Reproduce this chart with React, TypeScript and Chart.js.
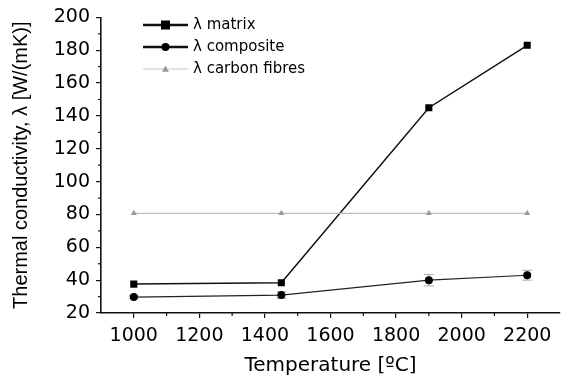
import React, { useEffect, useRef } from "react";
import { Chart, registerables } from "chart.js";

Chart.register(...registerables);

const temperatures = [1000, 1450, 1900, 2200];
const matrixValues = [37.6, 38.4, 145, 183];
const compositeValues = [29.7, 30.9, 40, 43];
const compositeErrors = [0.8, 2, 3.5, 3];
const carbonFibreValues = [80.7, 80.7, 80.7, 80.7];
const xTickValues = [1000, 1200, 1400, 1600, 1800, 2000, 2200];
const seriesLabels = ["λ matrix", "λ composite", "λ carbon fibres"];
const xTitle = "Temperature [ºC]";
const yTitle = "Thermal conductivity, λ [W/(mK)]";

const H_FONT = "'DejaVu Sans', sans-serif";
const V_FONT = "'Liberation Sans', Arial, sans-serif";

const minorTicksPlugin = {
  id: "minorTicks",
  afterDraw(chart: any) {
    const ctx = chart.ctx;
    const x = chart.scales.x;
    const y = chart.scales.y;
    ctx.save();
    ctx.strokeStyle = "#111";
    ctx.lineWidth = 1.2;
    for (let v = 1100; v < 2300; v += 200) {
      const px = x.getPixelForValue(v);
      ctx.beginPath();
      ctx.moveTo(px, x.top);
      ctx.lineTo(px, x.top + 3);
      ctx.stroke();
    }
    for (let v = 30; v < 200; v += 20) {
      const py = y.getPixelForValue(v);
      ctx.beginPath();
      ctx.moveTo(y.right, py);
      ctx.lineTo(y.right - 3, py);
      ctx.stroke();
    }
    ctx.restore();
  },
};

const errorBarPlugin = {
  id: "errorBars",
  beforeDatasetsDraw(chart: any) {
    const ctx = chart.ctx;
    const x = chart.scales.x;
    const y = chart.scales.y;
    ctx.save();
    ctx.strokeStyle = "#aaa";
    ctx.lineWidth = 1;
    temperatures.forEach((t, i) => {
      const px = x.getPixelForValue(t);
      const top = y.getPixelForValue(compositeValues[i] + compositeErrors[i]);
      const bot = y.getPixelForValue(compositeValues[i] - compositeErrors[i]);
      ctx.beginPath();
      ctx.moveTo(px, top);
      ctx.lineTo(px, bot);
      ctx.moveTo(px - 5, top);
      ctx.lineTo(px + 5, top);
      ctx.moveTo(px - 5, bot);
      ctx.lineTo(px + 5, bot);
      ctx.stroke();
    });
    ctx.restore();
  },
};

const legendPlugin = {
  id: "customLegend",
  afterDraw(chart: any) {
    const ctx = chart.ctx;
    const rows = [25, 47, 69];
    const x0 = 143;
    const x1 = 188;
    const xm = (x0 + x1) / 2;
    const styles = [
      { color: "#111", width: 2.5, marker: "rect", r: 4.5 },
      { color: "#111", width: 2.5, marker: "circle", r: 4 },
      { color: "#c4c4c4", width: 1, marker: "triangle", r: 3.5 },
    ];
    ctx.save();
    styles.forEach((s, i) => {
      const yy = rows[i];
      ctx.strokeStyle = s.color;
      ctx.lineWidth = s.width;
      ctx.beginPath();
      ctx.moveTo(x0, yy);
      ctx.lineTo(x1, yy);
      ctx.stroke();
      ctx.fillStyle = i === 2 ? "#999" : "#000";
      ctx.beginPath();
      if (s.marker === "rect") {
        ctx.rect(xm - s.r, yy - s.r, 2 * s.r, 2 * s.r);
      } else if (s.marker === "circle") {
        ctx.arc(xm, yy, s.r, 0, Math.PI * 2);
      } else {
        ctx.moveTo(xm, yy - s.r);
        ctx.lineTo(xm + s.r, yy + s.r * 0.8);
        ctx.lineTo(xm - s.r, yy + s.r * 0.8);
        ctx.closePath();
      }
      ctx.fill();
      ctx.fillStyle = "#000";
      ctx.font = `15px ${H_FONT}`;
      ctx.textBaseline = "middle";
      ctx.textAlign = "left";
      ctx.fillText(seriesLabels[i], 193, yy);
    });
    ctx.restore();
  },
};

export default function App() {
  const canvasRef = useRef<HTMLCanvasElement | null>(null);

  useEffect(() => {
    document.body.style.margin = "0";
    const canvas = canvasRef.current;
    if (!canvas) return;
    const toXY = (vals: number[]) => temperatures.map((t, i) => ({ x: t, y: vals[i] }));
    const chart = new Chart(canvas, {
      type: "line",
      data: {
        datasets: [
          {
            label: seriesLabels[2],
            data: toXY(carbonFibreValues),
            borderColor: "#bbb",
            borderWidth: 1.2,
            pointStyle: "triangle",
            pointRadius: 3.5,
            pointBackgroundColor: "#999",
            pointBorderColor: "#999",
            pointBorderWidth: 0,
          },
          {
            label: seriesLabels[1],
            data: toXY(compositeValues),
            borderColor: "#222",
            borderWidth: 1.2,
            pointStyle: "circle",
            pointRadius: 4,
            pointBackgroundColor: "#000",
            pointBorderColor: "#000",
            pointBorderWidth: 0,
          },
          {
            label: seriesLabels[0],
            data: toXY(matrixValues),
            borderColor: "#111",
            borderWidth: 1.5,
            pointStyle: "rect",
            pointRadius: 5,
            pointBackgroundColor: "#000",
            pointBorderColor: "#000",
            pointBorderWidth: 0,
          },
        ],
      },
      options: {
        responsive: false,
        animation: false,
        layout: { padding: { top: 16, right: 4, left: 0, bottom: 0 } },
        plugins: {
          legend: { display: false },
          tooltip: { enabled: false },
        },
        scales: {
          x: {
            type: "linear",
            min: 900,
            max: 2300,
            afterBuildTicks: (scale: any) => {
              scale.ticks = xTickValues.map((v) => ({ value: v }));
            },
            afterFit: (scale: any) => {
              scale.height = 65;
            },
            ticks: {
              color: "#000",
              padding: 7,
              maxRotation: 0,
              autoSkip: false,
              callback: (v: any) => String(v),
              font: { family: H_FONT, size: 19 },
            },
            grid: {
              drawOnChartArea: false,
              drawTicks: true,
              tickLength: 5,
              color: "#111",
              lineWidth: 1.2,
            },
            border: { display: true, color: "#111", width: 1.6 },
            title: {
              display: true,
              text: xTitle,
              color: "#000",
              font: { family: H_FONT, size: 20 },
              padding: { top: 0, bottom: 0 },
            },
          },
          y: {
            type: "linear",
            min: 20,
            max: 200,
            afterFit: (scale: any) => {
              scale.width = 101;
            },
            ticks: {
              stepSize: 20,
              color: "#000",
              padding: 6,
              callback: (v: any) => String(v),
              font: { family: H_FONT, size: 19 },
            },
            grid: {
              drawOnChartArea: false,
              drawTicks: true,
              tickLength: 5,
              color: "#111",
              lineWidth: 1.2,
            },
            border: { display: true, color: "#111", width: 1.6 },
            title: {
              display: true,
              text: yTitle,
              color: "#000",
              font: { family: V_FONT, size: 20 },
              padding: { top: 9, bottom: 0 },
            },
          },
        },
      },
      plugins: [minorTicksPlugin, errorBarPlugin, legendPlugin],
    } as any);
    return () => chart.destroy();
  }, []);

  return (
    <div style={{ position: "absolute", left: 0, top: 0, width: 565, height: 378, background: "#fff" }}>
      <canvas ref={canvasRef} width={565} height={378} />
    </div>
  );
}
